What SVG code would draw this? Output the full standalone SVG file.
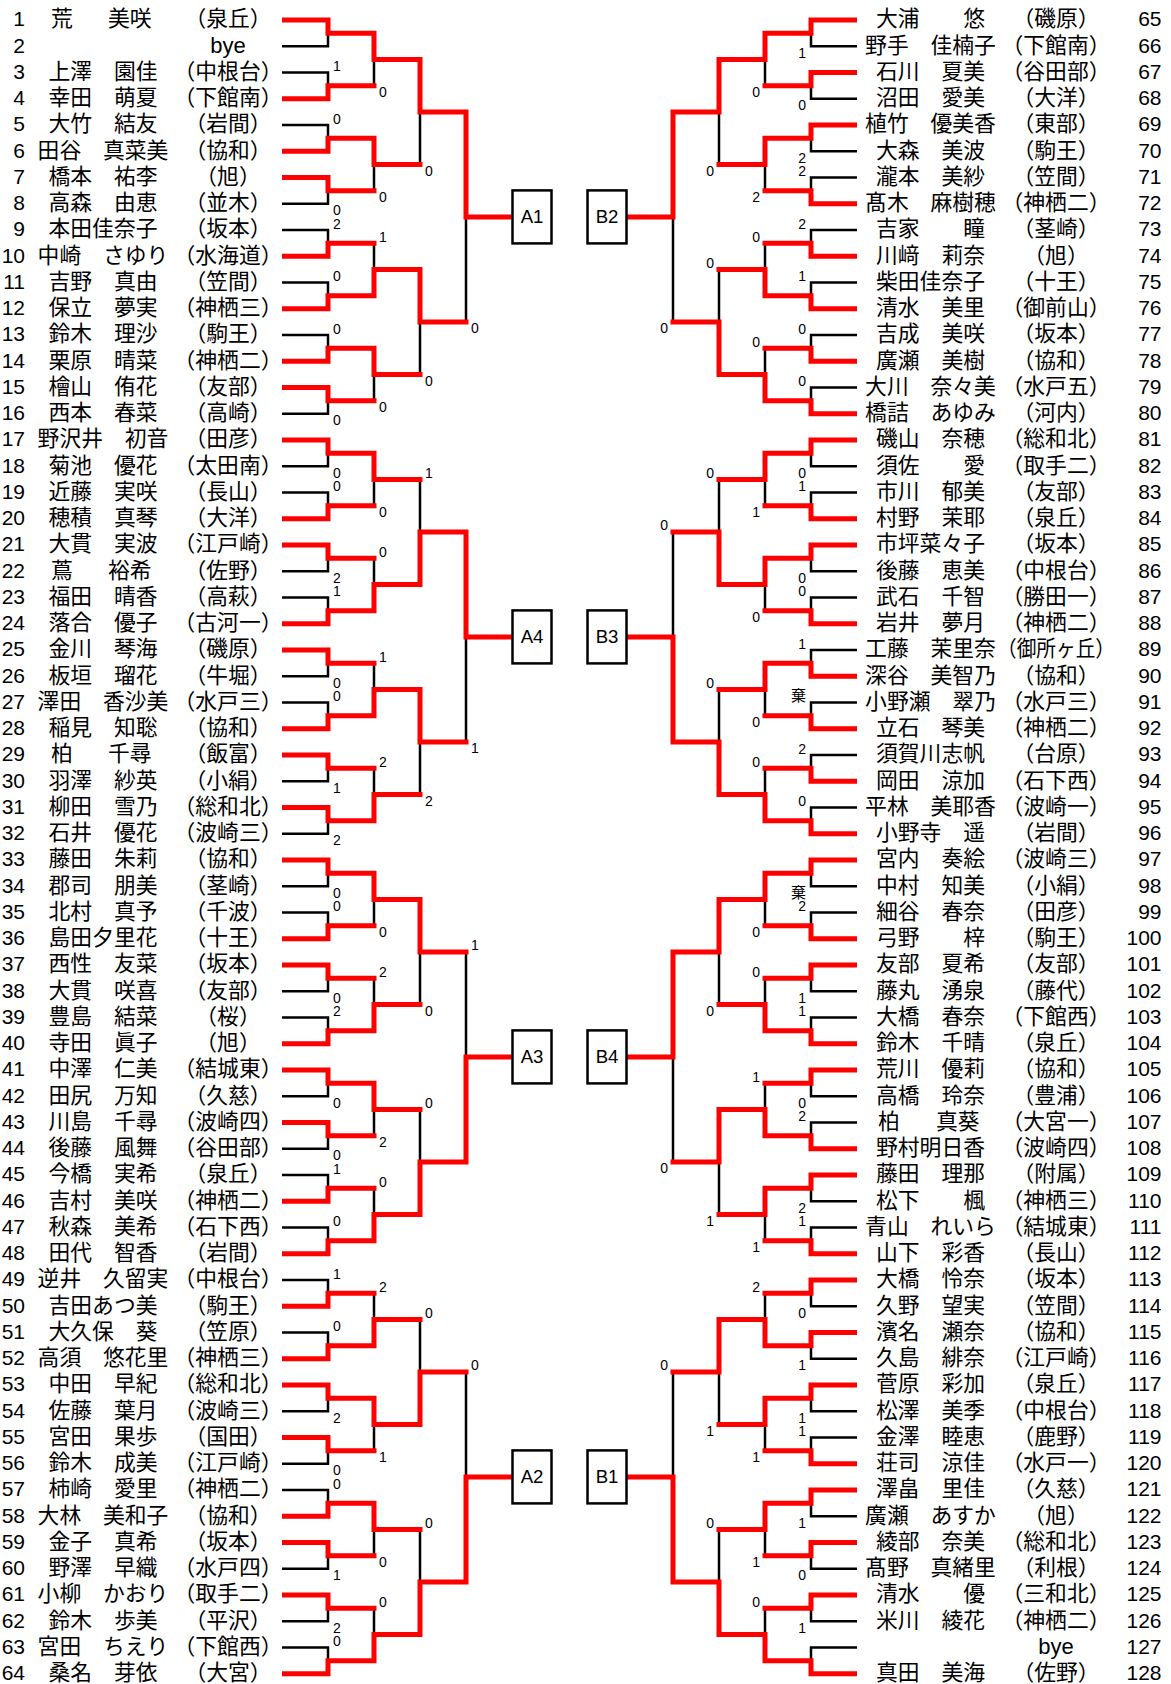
<svg xmlns="http://www.w3.org/2000/svg" width="1171" height="1684" viewBox="0 0 1171 1684">
<style>
.n{font-family:"Liberation Sans",Arial,sans-serif;font-size:21px;text-anchor:end;fill:#000}
.j{font-family:"Noto Sans CJK JP","Noto Sans CJK SC",sans-serif;font-size:21.8px;text-anchor:middle;fill:#000}
.js{text-anchor:start}
.bye{font-family:"Liberation Sans",Arial,sans-serif;font-size:22px;text-anchor:middle;fill:#000}
.s{font-family:"Liberation Sans",Arial,sans-serif;font-size:14px;fill:#000}
.sl{text-anchor:start}
.sr{text-anchor:end}
.k{font-family:"Noto Sans CJK JP",sans-serif;font-size:15px}
.bx{fill:#fff;stroke:#000;stroke-width:2.5}
.bt{font-family:"Liberation Sans",Arial,sans-serif;font-size:18.6px;text-anchor:middle;fill:#000}
.red{fill:none;stroke:#ff0000;stroke-width:5;stroke-linecap:square;stroke-linejoin:miter}
</style>
<defs>
<path id="sk" fill="none" stroke="#000" stroke-width="2.5" d="M282 20H328V46.25H282M282 72.5H328V98.75H282M282 125H328V151.25H282M282 177.5H328V203.75H282M282 230H328V256.25H282M282 282.5H328V308.75H282M282 335H328V361.25H282M282 387.5H328V413.75H282M374 33.125V85.625M374 138.125V190.625M374 243.125V295.625M374 348.125V400.625M420 59.375V164.375M420 269.375V374.375M466 111.875V321.875"/>
</defs>
<rect width="1171" height="1684" fill="#fff"/>
<g id="connectors">
<use href="#sk"/>
<use href="#sk" transform="translate(0,420)"/>
<use href="#sk" transform="translate(0,840)"/>
<use href="#sk" transform="translate(0,1260)"/>
<use href="#sk" transform="matrix(-1 0 0 1 1139 0)"/>
<use href="#sk" transform="matrix(-1 0 0 1 1139 420)"/>
<use href="#sk" transform="matrix(-1 0 0 1 1139 840)"/>
<use href="#sk" transform="matrix(-1 0 0 1 1139 1260)"/>
<path id="red-A1" class="red" d="M284.5 20H328V33.125H374M284.5 98.75H328V85.625H374M284.5 151.25H328V138.125H374M284.5 177.5H328V190.625H374M284.5 256.25H328V243.125H374M284.5 308.75H328V295.625H374M284.5 361.25H328V348.125H374M284.5 387.5H328V400.625H374M328 33.125H374V59.375H420M328 138.125H374V164.375H420M328 295.625H374V269.375H420M328 348.125H374V374.375H420M374 59.375H420V111.875H466M374 269.375H420V321.875H466M420 111.875H466V216.875H510"/>
<path id="red-A4" class="red" transform="translate(0,420)" d="M284.5 20H328V33.125H374M284.5 98.75H328V85.625H374M284.5 125H328V138.125H374M284.5 203.75H328V190.625H374M284.5 230H328V243.125H374M284.5 308.75H328V295.625H374M284.5 335H328V348.125H374M284.5 387.5H328V400.625H374M328 33.125H374V59.375H420M328 190.625H374V164.375H420M328 295.625H374V269.375H420M328 400.625H374V374.375H420M374 164.375H420V111.875H466M374 269.375H420V321.875H466M420 111.875H466V216.875H510"/>
<path id="red-A3" class="red" transform="translate(0,840)" d="M284.5 20H328V33.125H374M284.5 98.75H328V85.625H374M284.5 125H328V138.125H374M284.5 203.75H328V190.625H374M284.5 230H328V243.125H374M284.5 282.5H328V295.625H374M284.5 361.25H328V348.125H374M284.5 413.75H328V400.625H374M328 33.125H374V59.375H420M328 190.625H374V164.375H420M328 243.125H374V269.375H420M328 400.625H374V374.375H420M374 59.375H420V111.875H466M374 374.375H420V321.875H466M420 321.875H466V216.875H510"/>
<path id="red-A2" class="red" transform="translate(0,1260)" d="M284.5 46.25H328V33.125H374M284.5 98.75H328V85.625H374M284.5 125H328V138.125H374M284.5 177.5H328V190.625H374M284.5 256.25H328V243.125H374M284.5 282.5H328V295.625H374M284.5 335H328V348.125H374M284.5 413.75H328V400.625H374M328 85.625H374V59.375H420M328 138.125H374V164.375H420M328 243.125H374V269.375H420M328 400.625H374V374.375H420M374 164.375H420V111.875H466M374 374.375H420V321.875H466M420 321.875H466V216.875H510"/>
<path id="red-B2" class="red" transform="matrix(-1 0 0 1 1139 0)" d="M284.5 20H328V33.125H374M284.5 72.5H328V85.625H374M284.5 125H328V138.125H374M284.5 203.75H328V190.625H374M284.5 256.25H328V243.125H374M284.5 308.75H328V295.625H374M284.5 361.25H328V348.125H374M284.5 413.75H328V400.625H374M328 33.125H374V59.375H420M328 138.125H374V164.375H420M328 295.625H374V269.375H420M328 400.625H374V374.375H420M374 59.375H420V111.875H466M374 374.375H420V321.875H466M420 111.875H466V216.875H510"/>
<path id="red-B3" class="red" transform="matrix(-1 0 0 1 1139 420)" d="M284.5 20H328V33.125H374M284.5 98.75H328V85.625H374M284.5 125H328V138.125H374M284.5 203.75H328V190.625H374M284.5 256.25H328V243.125H374M284.5 308.75H328V295.625H374M284.5 361.25H328V348.125H374M284.5 413.75H328V400.625H374M328 33.125H374V59.375H420M328 138.125H374V164.375H420M328 243.125H374V269.375H420M328 400.625H374V374.375H420M374 164.375H420V111.875H466M374 374.375H420V321.875H466M420 321.875H466V216.875H510"/>
<path id="red-B4" class="red" transform="matrix(-1 0 0 1 1139 840)" d="M284.5 20H328V33.125H374M284.5 98.75H328V85.625H374M284.5 125H328V138.125H374M284.5 203.75H328V190.625H374M284.5 230H328V243.125H374M284.5 308.75H328V295.625H374M284.5 335H328V348.125H374M284.5 413.75H328V400.625H374M328 33.125H374V59.375H420M328 190.625H374V164.375H420M328 295.625H374V269.375H420M328 348.125H374V374.375H420M374 59.375H420V111.875H466M374 269.375H420V321.875H466M420 111.875H466V216.875H510"/>
<path id="red-B1" class="red" transform="matrix(-1 0 0 1 1139 1260)" d="M284.5 20H328V33.125H374M284.5 72.5H328V85.625H374M284.5 125H328V138.125H374M284.5 203.75H328V190.625H374M284.5 230H328V243.125H374M284.5 282.5H328V295.625H374M284.5 335H328V348.125H374M284.5 413.75H328V400.625H374M328 85.625H374V59.375H420M328 138.125H374V164.375H420M328 243.125H374V269.375H420M328 400.625H374V374.375H420M374 59.375H420V111.875H466M374 374.375H420V321.875H466M420 321.875H466V216.875H510"/>
</g>
<g id="scores">
<g id="scores-A1" class="s sl">
<text x="333" y="71">1</text><text x="333" y="123.5">0</text><text x="333" y="215.25">0</text><text x="333" y="228.5">2</text><text x="333" y="281">0</text><text x="333" y="333.5">0</text><text x="333" y="425.25">0</text>
<text x="379" y="97.125">0</text><text x="379" y="202.125">0</text><text x="379" y="241.625">1</text><text x="379" y="412.125">0</text>
<text x="425" y="175.875">0</text><text x="425" y="385.875">0</text><text x="471" y="333.375">0</text>
</g>
<g id="scores-A4" class="s sl" transform="translate(0,420)">
<text x="333" y="57.75">0</text><text x="333" y="71">0</text><text x="333" y="162.75">2</text><text x="333" y="176">1</text><text x="333" y="267.75">0</text><text x="333" y="281">0</text><text x="333" y="372.75">1</text><text x="333" y="425.25">2</text>
<text x="379" y="97.125">0</text><text x="379" y="136.625">0</text><text x="379" y="241.625">1</text><text x="379" y="346.625">2</text>
<text x="425" y="57.875">1</text><text x="425" y="385.875">2</text><text x="471" y="333.375">1</text>
</g>
<g id="scores-A3" class="s sl" transform="translate(0,840)">
<text x="333" y="57.75">0</text><text x="333" y="71">0</text><text x="333" y="162.75">0</text><text x="333" y="176">2</text><text x="333" y="267.75">0</text><text x="333" y="320.25">0</text><text x="333" y="333.5">1</text><text x="333" y="386">0</text>
<text x="379" y="97.125">0</text><text x="379" y="136.625">2</text><text x="379" y="307.125">2</text><text x="379" y="346.625">0</text>
<text x="425" y="175.875">0</text><text x="425" y="267.875">0</text><text x="471" y="110.375">1</text>
</g>
<g id="scores-A2" class="s sl" transform="translate(0,1260)">
<text x="333" y="18.5">1</text><text x="333" y="71">0</text><text x="333" y="162.75">2</text><text x="333" y="215.25">0</text><text x="333" y="228.5">0</text><text x="333" y="320.25">1</text><text x="333" y="372.75">2</text><text x="333" y="386">0</text>
<text x="379" y="31.625">2</text><text x="379" y="202.125">1</text><text x="379" y="307.125">0</text><text x="379" y="346.625">0</text>
<text x="425" y="57.875">0</text><text x="425" y="267.875">0</text><text x="471" y="110.375">0</text>
</g>
<g id="scores-B2" class="s sr">
<text x="806" y="57.75">1</text><text x="806" y="110.25">0</text><text x="806" y="162.75">2</text><text x="806" y="176">2</text><text x="806" y="228.5">2</text><text x="806" y="281">1</text><text x="806" y="333.5">0</text><text x="806" y="386">0</text>
<text x="760" y="97.125">0</text><text x="760" y="202.125">2</text><text x="760" y="241.625">0</text><text x="760" y="346.625">0</text>
<text x="714" y="175.875">0</text><text x="714" y="267.875">0</text><text x="668" y="333.375">0</text>
</g>
<g id="scores-B3" class="s sr" transform="translate(0,420)">
<text x="806" y="57.75">0</text><text x="806" y="71">1</text><text x="806" y="162.75">0</text><text x="806" y="176">0</text><text x="806" y="228.5">1</text><text class="k" x="806" y="281">棄</text><text x="806" y="333.5">2</text><text x="806" y="386">0</text>
<text x="760" y="97.125">1</text><text x="760" y="202.125">0</text><text x="760" y="307.125">0</text><text x="760" y="346.625">0</text>
<text x="714" y="57.875">0</text><text x="714" y="267.875">0</text><text x="668" y="110.375">0</text>
</g>
<g id="scores-B4" class="s sr" transform="translate(0,840)">
<text class="k" x="806" y="57.75">棄</text><text x="806" y="71">2</text><text x="806" y="162.75">1</text><text x="806" y="176">1</text><text x="806" y="267.75">0</text><text x="806" y="281">2</text><text x="806" y="372.75">2</text><text x="806" y="386">1</text>
<text x="760" y="97.125">0</text><text x="760" y="136.625">0</text><text x="760" y="241.625">1</text><text x="760" y="412.125">1</text>
<text x="714" y="175.875">0</text><text x="714" y="385.875">1</text><text x="668" y="333.375">0</text>
</g>
<g id="scores-B1" class="s sr" transform="translate(0,1260)">
<text x="806" y="57.75">0</text><text x="806" y="110.25">1</text><text x="806" y="162.75">1</text><text x="806" y="176">1</text><text x="806" y="267.75">1</text><text x="806" y="320.25">0</text><text x="806" y="372.75">1</text>
<text x="760" y="31.625">2</text><text x="760" y="202.125">1</text><text x="760" y="307.125">1</text><text x="760" y="346.625">0</text>
<text x="714" y="175.875">1</text><text x="714" y="267.875">0</text><text x="668" y="110.375">0</text>
</g>
</g>
<g id="boxes">
<g id="A1"><rect class="bx" x="512.5" y="190.4" width="39" height="53"/><text class="bt" x="532" y="223.4">A1</text></g>
<g id="A4"><rect class="bx" x="512.5" y="610.4" width="39" height="53"/><text class="bt" x="532" y="643.4">A4</text></g>
<g id="A3"><rect class="bx" x="512.5" y="1030.4" width="39" height="53"/><text class="bt" x="532" y="1063.4">A3</text></g>
<g id="A2"><rect class="bx" x="512.5" y="1450.4" width="39" height="53"/><text class="bt" x="532" y="1483.4">A2</text></g>
<g id="B2"><rect class="bx" x="587.5" y="190.4" width="39" height="53"/><text class="bt" x="607" y="223.4">B2</text></g>
<g id="B3"><rect class="bx" x="587.5" y="610.4" width="39" height="53"/><text class="bt" x="607" y="643.4">B3</text></g>
<g id="B4"><rect class="bx" x="587.5" y="1030.4" width="39" height="53"/><text class="bt" x="607" y="1063.4">B4</text></g>
<g id="B1"><rect class="bx" x="587.5" y="1450.4" width="39" height="53"/><text class="bt" x="607" y="1483.4">B1</text></g>
</g>
<g id="players-left">
<g id="p1"><text class="n" x="25" y="26.4">1</text><text class="j js" x="51 108" y="26.4">荒美咲</text><text class="j" x="228" y="26.4">（泉丘）</text></g>
<g id="p2"><text class="n" x="25" y="52.65">2</text><text class="bye" x="228" y="52.65">bye</text></g>
<g id="p3"><text class="n" x="25" y="78.9">3</text><text class="j" x="103" y="78.9">上澤　園佳</text><text class="j" x="228" y="78.9">（中根台）</text></g>
<g id="p4"><text class="n" x="25" y="105.15">4</text><text class="j" x="103" y="105.15">幸田　萌夏</text><text class="j" x="228" y="105.15">（下館南）</text></g>
<g id="p5"><text class="n" x="25" y="131.4">5</text><text class="j" x="103" y="131.4">大竹　結友</text><text class="j" x="228" y="131.4">（岩間）</text></g>
<g id="p6"><text class="n" x="25" y="157.65">6</text><text class="j" x="103" y="157.65">田谷　真菜美</text><text class="j" x="228" y="157.65">（協和）</text></g>
<g id="p7"><text class="n" x="25" y="183.9">7</text><text class="j" x="103" y="183.9">橋本　祐李</text><text class="j" x="228" y="183.9">（旭）</text></g>
<g id="p8"><text class="n" x="25" y="210.15">8</text><text class="j" x="103" y="210.15">高森　由恵</text><text class="j" x="228" y="210.15">（並木）</text></g>
<g id="p9"><text class="n" x="25" y="236.4">9</text><text class="j" x="103" y="236.4">本田佳奈子</text><text class="j" x="228" y="236.4">（坂本）</text></g>
<g id="p10"><text class="n" x="25" y="262.65">10</text><text class="j" x="103" y="262.65">中崎　さゆり</text><text class="j" x="228" y="262.65">（水海道）</text></g>
<g id="p11"><text class="n" x="25" y="288.9">11</text><text class="j" x="103" y="288.9">吉野　真由</text><text class="j" x="228" y="288.9">（笠間）</text></g>
<g id="p12"><text class="n" x="25" y="315.15">12</text><text class="j" x="103" y="315.15">保立　夢実</text><text class="j" x="228" y="315.15">（神栖三）</text></g>
<g id="p13"><text class="n" x="25" y="341.4">13</text><text class="j" x="103" y="341.4">鈴木　理沙</text><text class="j" x="228" y="341.4">（駒王）</text></g>
<g id="p14"><text class="n" x="25" y="367.65">14</text><text class="j" x="103" y="367.65">栗原　晴菜</text><text class="j" x="228" y="367.65">（神栖二）</text></g>
<g id="p15"><text class="n" x="25" y="393.9">15</text><text class="j" x="103" y="393.9">檜山　侑花</text><text class="j" x="228" y="393.9">（友部）</text></g>
<g id="p16"><text class="n" x="25" y="420.15">16</text><text class="j" x="103" y="420.15">西本　春菜</text><text class="j" x="228" y="420.15">（高崎）</text></g>
<g id="p17"><text class="n" x="25" y="446.4">17</text><text class="j" x="103" y="446.4">野沢井　初音</text><text class="j" x="228" y="446.4">（田彦）</text></g>
<g id="p18"><text class="n" x="25" y="472.65">18</text><text class="j" x="103" y="472.65">菊池　優花</text><text class="j" x="228" y="472.65">（太田南）</text></g>
<g id="p19"><text class="n" x="25" y="498.9">19</text><text class="j" x="103" y="498.9">近藤　実咲</text><text class="j" x="228" y="498.9">（長山）</text></g>
<g id="p20"><text class="n" x="25" y="525.15">20</text><text class="j" x="103" y="525.15">穂積　真琴</text><text class="j" x="228" y="525.15">（大洋）</text></g>
<g id="p21"><text class="n" x="25" y="551.4">21</text><text class="j" x="103" y="551.4">大貫　実波</text><text class="j" x="228" y="551.4">（江戸崎）</text></g>
<g id="p22"><text class="n" x="25" y="577.65">22</text><text class="j js" x="51 108" y="577.65">蔦裕希</text><text class="j" x="228" y="577.65">（佐野）</text></g>
<g id="p23"><text class="n" x="25" y="603.9">23</text><text class="j" x="103" y="603.9">福田　晴香</text><text class="j" x="228" y="603.9">（高萩）</text></g>
<g id="p24"><text class="n" x="25" y="630.15">24</text><text class="j" x="103" y="630.15">落合　優子</text><text class="j" x="228" y="630.15">（古河一）</text></g>
<g id="p25"><text class="n" x="25" y="656.4">25</text><text class="j" x="103" y="656.4">金川　琴海</text><text class="j" x="228" y="656.4">（磯原）</text></g>
<g id="p26"><text class="n" x="25" y="682.65">26</text><text class="j" x="103" y="682.65">板垣　瑠花</text><text class="j" x="228" y="682.65">（牛堀）</text></g>
<g id="p27"><text class="n" x="25" y="708.9">27</text><text class="j" x="103" y="708.9">澤田　香沙美</text><text class="j" x="228" y="708.9">（水戸三）</text></g>
<g id="p28"><text class="n" x="25" y="735.15">28</text><text class="j" x="103" y="735.15">稲見　知聡</text><text class="j" x="228" y="735.15">（協和）</text></g>
<g id="p29"><text class="n" x="25" y="761.4">29</text><text class="j js" x="51 108" y="761.4">柏千尋</text><text class="j" x="228" y="761.4">（飯富）</text></g>
<g id="p30"><text class="n" x="25" y="787.65">30</text><text class="j" x="103" y="787.65">羽澤　紗英</text><text class="j" x="228" y="787.65">（小絹）</text></g>
<g id="p31"><text class="n" x="25" y="813.9">31</text><text class="j" x="103" y="813.9">柳田　雪乃</text><text class="j" x="228" y="813.9">（総和北）</text></g>
<g id="p32"><text class="n" x="25" y="840.15">32</text><text class="j" x="103" y="840.15">石井　優花</text><text class="j" x="228" y="840.15">（波崎三）</text></g>
<g id="p33"><text class="n" x="25" y="866.4">33</text><text class="j" x="103" y="866.4">藤田　朱莉</text><text class="j" x="228" y="866.4">（協和）</text></g>
<g id="p34"><text class="n" x="25" y="892.65">34</text><text class="j" x="103" y="892.65">郡司　朋美</text><text class="j" x="228" y="892.65">（茎崎）</text></g>
<g id="p35"><text class="n" x="25" y="918.9">35</text><text class="j" x="103" y="918.9">北村　真予</text><text class="j" x="228" y="918.9">（千波）</text></g>
<g id="p36"><text class="n" x="25" y="945.15">36</text><text class="j" x="103" y="945.15">島田夕里花</text><text class="j" x="228" y="945.15">（十王）</text></g>
<g id="p37"><text class="n" x="25" y="971.4">37</text><text class="j" x="103" y="971.4">西性　友菜</text><text class="j" x="228" y="971.4">（坂本）</text></g>
<g id="p38"><text class="n" x="25" y="997.65">38</text><text class="j" x="103" y="997.65">大貫　咲喜</text><text class="j" x="228" y="997.65">（友部）</text></g>
<g id="p39"><text class="n" x="25" y="1023.9">39</text><text class="j" x="103" y="1023.9">豊島　結菜</text><text class="j" x="228" y="1023.9">（桜）</text></g>
<g id="p40"><text class="n" x="25" y="1050.15">40</text><text class="j" x="103" y="1050.15">寺田　眞子</text><text class="j" x="228" y="1050.15">（旭）</text></g>
<g id="p41"><text class="n" x="25" y="1076.4">41</text><text class="j" x="103" y="1076.4">中澤　仁美</text><text class="j" x="228" y="1076.4">（結城東）</text></g>
<g id="p42"><text class="n" x="25" y="1102.65">42</text><text class="j" x="103" y="1102.65">田尻　万知</text><text class="j" x="228" y="1102.65">（久慈）</text></g>
<g id="p43"><text class="n" x="25" y="1128.9">43</text><text class="j" x="103" y="1128.9">川島　千尋</text><text class="j" x="228" y="1128.9">（波崎四）</text></g>
<g id="p44"><text class="n" x="25" y="1155.15">44</text><text class="j" x="103" y="1155.15">後藤　風舞</text><text class="j" x="228" y="1155.15">（谷田部）</text></g>
<g id="p45"><text class="n" x="25" y="1181.4">45</text><text class="j" x="103" y="1181.4">今橋　実希</text><text class="j" x="228" y="1181.4">（泉丘）</text></g>
<g id="p46"><text class="n" x="25" y="1207.65">46</text><text class="j" x="103" y="1207.65">吉村　美咲</text><text class="j" x="228" y="1207.65">（神栖二）</text></g>
<g id="p47"><text class="n" x="25" y="1233.9">47</text><text class="j" x="103" y="1233.9">秋森　美希</text><text class="j" x="228" y="1233.9">（石下西）</text></g>
<g id="p48"><text class="n" x="25" y="1260.15">48</text><text class="j" x="103" y="1260.15">田代　智香</text><text class="j" x="228" y="1260.15">（岩間）</text></g>
<g id="p49"><text class="n" x="25" y="1286.4">49</text><text class="j" x="103" y="1286.4">逆井　久留実</text><text class="j" x="228" y="1286.4">（中根台）</text></g>
<g id="p50"><text class="n" x="25" y="1312.65">50</text><text class="j" x="103" y="1312.65">吉田あつ美</text><text class="j" x="228" y="1312.65">（駒王）</text></g>
<g id="p51"><text class="n" x="25" y="1338.9">51</text><text class="j" x="103" y="1338.9">大久保　葵</text><text class="j" x="228" y="1338.9">（笠原）</text></g>
<g id="p52"><text class="n" x="25" y="1365.15">52</text><text class="j" x="103" y="1365.15">高須　悠花里</text><text class="j" x="228" y="1365.15">（神栖三）</text></g>
<g id="p53"><text class="n" x="25" y="1391.4">53</text><text class="j" x="103" y="1391.4">中田　早紀</text><text class="j" x="228" y="1391.4">（総和北）</text></g>
<g id="p54"><text class="n" x="25" y="1417.65">54</text><text class="j" x="103" y="1417.65">佐藤　葉月</text><text class="j" x="228" y="1417.65">（波崎三）</text></g>
<g id="p55"><text class="n" x="25" y="1443.9">55</text><text class="j" x="103" y="1443.9">宮田　果歩</text><text class="j" x="228" y="1443.9">（国田）</text></g>
<g id="p56"><text class="n" x="25" y="1470.15">56</text><text class="j" x="103" y="1470.15">鈴木　成美</text><text class="j" x="228" y="1470.15">（江戸崎）</text></g>
<g id="p57"><text class="n" x="25" y="1496.4">57</text><text class="j" x="103" y="1496.4">柿崎　愛里</text><text class="j" x="228" y="1496.4">（神栖二）</text></g>
<g id="p58"><text class="n" x="25" y="1522.65">58</text><text class="j" x="103" y="1522.65">大林　美和子</text><text class="j" x="228" y="1522.65">（協和）</text></g>
<g id="p59"><text class="n" x="25" y="1548.9">59</text><text class="j" x="103" y="1548.9">金子　真希</text><text class="j" x="228" y="1548.9">（坂本）</text></g>
<g id="p60"><text class="n" x="25" y="1575.15">60</text><text class="j" x="103" y="1575.15">野澤　早織</text><text class="j" x="228" y="1575.15">（水戸四）</text></g>
<g id="p61"><text class="n" x="25" y="1601.4">61</text><text class="j" x="103" y="1601.4">小柳　かおり</text><text class="j" x="228" y="1601.4">（取手二）</text></g>
<g id="p62"><text class="n" x="25" y="1627.65">62</text><text class="j" x="103" y="1627.65">鈴木　歩美</text><text class="j" x="228" y="1627.65">（平沢）</text></g>
<g id="p63"><text class="n" x="25" y="1653.9">63</text><text class="j" x="103" y="1653.9">宮田　ちえり</text><text class="j" x="228" y="1653.9">（下館西）</text></g>
<g id="p64"><text class="n" x="25" y="1680.15">64</text><text class="j" x="103" y="1680.15">桑名　芽依</text><text class="j" x="228" y="1680.15">（大宮）</text></g>
</g>
<g id="players-right">
<g id="p65"><text class="j" x="930.5" y="26.4">大浦　　悠</text><text class="j" x="1056" y="26.4">（磯原）</text><text class="n" x="1161.5" y="26.4">65</text></g>
<g id="p66"><text class="j" x="930.5" y="52.65">野手　佳楠子</text><text class="j" x="1056" y="52.65">（下館南）</text><text class="n" x="1161.5" y="52.65">66</text></g>
<g id="p67"><text class="j" x="930.5" y="78.9">石川　夏美</text><text class="j" x="1056" y="78.9">（谷田部）</text><text class="n" x="1161.5" y="78.9">67</text></g>
<g id="p68"><text class="j" x="930.5" y="105.15">沼田　愛美</text><text class="j" x="1056" y="105.15">（大洋）</text><text class="n" x="1161.5" y="105.15">68</text></g>
<g id="p69"><text class="j" x="930.5" y="131.4">植竹　優美香</text><text class="j" x="1056" y="131.4">（東部）</text><text class="n" x="1161.5" y="131.4">69</text></g>
<g id="p70"><text class="j" x="930.5" y="157.65">大森　美波</text><text class="j" x="1056" y="157.65">（駒王）</text><text class="n" x="1161.5" y="157.65">70</text></g>
<g id="p71"><text class="j" x="930.5" y="183.9">瀧本　美紗</text><text class="j" x="1056" y="183.9">（笠間）</text><text class="n" x="1161.5" y="183.9">71</text></g>
<g id="p72"><text class="j" x="930.5" y="210.15">髙木　麻樹穂</text><text class="j" x="1056" y="210.15">（神栖二）</text><text class="n" x="1161.5" y="210.15">72</text></g>
<g id="p73"><text class="j" x="930.5" y="236.4">吉家　　瞳</text><text class="j" x="1056" y="236.4">（茎崎）</text><text class="n" x="1161.5" y="236.4">73</text></g>
<g id="p74"><text class="j" x="930.5" y="262.65">川﨑　莉奈</text><text class="j" x="1056" y="262.65">（旭）</text><text class="n" x="1161.5" y="262.65">74</text></g>
<g id="p75"><text class="j" x="930.5" y="288.9">柴田佳奈子</text><text class="j" x="1056" y="288.9">（十王）</text><text class="n" x="1161.5" y="288.9">75</text></g>
<g id="p76"><text class="j" x="930.5" y="315.15">清水　美里</text><text class="j" x="1056" y="315.15">（御前山）</text><text class="n" x="1161.5" y="315.15">76</text></g>
<g id="p77"><text class="j" x="930.5" y="341.4">吉成　美咲</text><text class="j" x="1056" y="341.4">（坂本）</text><text class="n" x="1161.5" y="341.4">77</text></g>
<g id="p78"><text class="j" x="930.5" y="367.65">廣瀬　美樹</text><text class="j" x="1056" y="367.65">（協和）</text><text class="n" x="1161.5" y="367.65">78</text></g>
<g id="p79"><text class="j" x="930.5" y="393.9">大川　奈々美</text><text class="j" x="1056" y="393.9">（水戸五）</text><text class="n" x="1161.5" y="393.9">79</text></g>
<g id="p80"><text class="j" x="930.5" y="420.15">橋詰　あゆみ</text><text class="j" x="1056" y="420.15">（河内）</text><text class="n" x="1161.5" y="420.15">80</text></g>
<g id="p81"><text class="j" x="930.5" y="446.4">磯山　奈穂</text><text class="j" x="1056" y="446.4">（総和北）</text><text class="n" x="1161.5" y="446.4">81</text></g>
<g id="p82"><text class="j" x="930.5" y="472.65">須佐　　愛</text><text class="j" x="1056" y="472.65">（取手二）</text><text class="n" x="1161.5" y="472.65">82</text></g>
<g id="p83"><text class="j" x="930.5" y="498.9">市川　郁美</text><text class="j" x="1056" y="498.9">（友部）</text><text class="n" x="1161.5" y="498.9">83</text></g>
<g id="p84"><text class="j" x="930.5" y="525.15">村野　茉耶</text><text class="j" x="1056" y="525.15">（泉丘）</text><text class="n" x="1161.5" y="525.15">84</text></g>
<g id="p85"><text class="j" x="930.5" y="551.4">市坪菜々子</text><text class="j" x="1056" y="551.4">（坂本）</text><text class="n" x="1161.5" y="551.4">85</text></g>
<g id="p86"><text class="j" x="930.5" y="577.65">後藤　恵美</text><text class="j" x="1056" y="577.65">（中根台）</text><text class="n" x="1161.5" y="577.65">86</text></g>
<g id="p87"><text class="j" x="930.5" y="603.9">武石　千智</text><text class="j" x="1056" y="603.9">（勝田一）</text><text class="n" x="1161.5" y="603.9">87</text></g>
<g id="p88"><text class="j" x="930.5" y="630.15">岩井　夢月</text><text class="j" x="1056" y="630.15">（神栖二）</text><text class="n" x="1161.5" y="630.15">88</text></g>
<g id="p89"><text class="j" x="930.5" y="656.4">工藤　茉里奈</text><text class="j" x="1056" y="656.4" textLength="118" lengthAdjust="spacingAndGlyphs">（御所ヶ丘）</text><text class="n" x="1161.5" y="656.4">89</text></g>
<g id="p90"><text class="j" x="930.5" y="682.65">深谷　美智乃</text><text class="j" x="1056" y="682.65">（協和）</text><text class="n" x="1161.5" y="682.65">90</text></g>
<g id="p91"><text class="j" x="930.5" y="708.9">小野瀬　翠乃</text><text class="j" x="1056" y="708.9">（水戸三）</text><text class="n" x="1161.5" y="708.9">91</text></g>
<g id="p92"><text class="j" x="930.5" y="735.15">立石　琴美</text><text class="j" x="1056" y="735.15">（神栖二）</text><text class="n" x="1161.5" y="735.15">92</text></g>
<g id="p93"><text class="j" x="930.5" y="761.4">須賀川志帆</text><text class="j" x="1056" y="761.4">（台原）</text><text class="n" x="1161.5" y="761.4">93</text></g>
<g id="p94"><text class="j" x="930.5" y="787.65">岡田　涼加</text><text class="j" x="1056" y="787.65">（石下西）</text><text class="n" x="1161.5" y="787.65">94</text></g>
<g id="p95"><text class="j" x="930.5" y="813.9">平林　美耶香</text><text class="j" x="1056" y="813.9">（波崎一）</text><text class="n" x="1161.5" y="813.9">95</text></g>
<g id="p96"><text class="j" x="930.5" y="840.15">小野寺　遥</text><text class="j" x="1056" y="840.15">（岩間）</text><text class="n" x="1161.5" y="840.15">96</text></g>
<g id="p97"><text class="j" x="930.5" y="866.4">宮内　奏絵</text><text class="j" x="1056" y="866.4">（波崎三）</text><text class="n" x="1161.5" y="866.4">97</text></g>
<g id="p98"><text class="j" x="930.5" y="892.65">中村　知美</text><text class="j" x="1056" y="892.65">（小絹）</text><text class="n" x="1161.5" y="892.65">98</text></g>
<g id="p99"><text class="j" x="930.5" y="918.9">細谷　春奈</text><text class="j" x="1056" y="918.9">（田彦）</text><text class="n" x="1161.5" y="918.9">99</text></g>
<g id="p100"><text class="j" x="930.5" y="945.15">弓野　　梓</text><text class="j" x="1056" y="945.15">（駒王）</text><text class="n" x="1161.5" y="945.15">100</text></g>
<g id="p101"><text class="j" x="930.5" y="971.4">友部　夏希</text><text class="j" x="1056" y="971.4">（友部）</text><text class="n" x="1161.5" y="971.4">101</text></g>
<g id="p102"><text class="j" x="930.5" y="997.65">藤丸　湧泉</text><text class="j" x="1056" y="997.65">（藤代）</text><text class="n" x="1161.5" y="997.65">102</text></g>
<g id="p103"><text class="j" x="930.5" y="1023.9">大橋　春奈</text><text class="j" x="1056" y="1023.9">（下館西）</text><text class="n" x="1161.5" y="1023.9">103</text></g>
<g id="p104"><text class="j" x="930.5" y="1050.15">鈴木　千晴</text><text class="j" x="1056" y="1050.15">（泉丘）</text><text class="n" x="1161.5" y="1050.15">104</text></g>
<g id="p105"><text class="j" x="930.5" y="1076.4">荒川　優莉</text><text class="j" x="1056" y="1076.4">（協和）</text><text class="n" x="1161.5" y="1076.4">105</text></g>
<g id="p106"><text class="j" x="930.5" y="1102.65">高橋　玲奈</text><text class="j" x="1056" y="1102.65">（豊浦）</text><text class="n" x="1161.5" y="1102.65">106</text></g>
<g id="p107"><text class="j js" x="878 936" y="1128.9">柏真葵</text><text class="j" x="1056" y="1128.9">（大宮一）</text><text class="n" x="1161.5" y="1128.9">107</text></g>
<g id="p108"><text class="j" x="930.5" y="1155.15">野村明日香</text><text class="j" x="1056" y="1155.15">（波崎四）</text><text class="n" x="1161.5" y="1155.15">108</text></g>
<g id="p109"><text class="j" x="930.5" y="1181.4">藤田　理那</text><text class="j" x="1056" y="1181.4">（附属）</text><text class="n" x="1161.5" y="1181.4">109</text></g>
<g id="p110"><text class="j" x="930.5" y="1207.65">松下　　楓</text><text class="j" x="1056" y="1207.65">（神栖三）</text><text class="n" x="1161.5" y="1207.65">110</text></g>
<g id="p111"><text class="j" x="930.5" y="1233.9">青山　れいら</text><text class="j" x="1056" y="1233.9">（結城東）</text><text class="n" x="1161.5" y="1233.9">111</text></g>
<g id="p112"><text class="j" x="930.5" y="1260.15">山下　彩香</text><text class="j" x="1056" y="1260.15">（長山）</text><text class="n" x="1161.5" y="1260.15">112</text></g>
<g id="p113"><text class="j" x="930.5" y="1286.4">大橋　怜奈</text><text class="j" x="1056" y="1286.4">（坂本）</text><text class="n" x="1161.5" y="1286.4">113</text></g>
<g id="p114"><text class="j" x="930.5" y="1312.65">久野　望実</text><text class="j" x="1056" y="1312.65">（笠間）</text><text class="n" x="1161.5" y="1312.65">114</text></g>
<g id="p115"><text class="j" x="930.5" y="1338.9">濱名　瀬奈</text><text class="j" x="1056" y="1338.9">（協和）</text><text class="n" x="1161.5" y="1338.9">115</text></g>
<g id="p116"><text class="j" x="930.5" y="1365.15">久島　緋奈</text><text class="j" x="1056" y="1365.15">（江戸崎）</text><text class="n" x="1161.5" y="1365.15">116</text></g>
<g id="p117"><text class="j" x="930.5" y="1391.4">菅原　彩加</text><text class="j" x="1056" y="1391.4">（泉丘）</text><text class="n" x="1161.5" y="1391.4">117</text></g>
<g id="p118"><text class="j" x="930.5" y="1417.65">松澤　美季</text><text class="j" x="1056" y="1417.65">（中根台）</text><text class="n" x="1161.5" y="1417.65">118</text></g>
<g id="p119"><text class="j" x="930.5" y="1443.9">金澤　睦恵</text><text class="j" x="1056" y="1443.9">（鹿野）</text><text class="n" x="1161.5" y="1443.9">119</text></g>
<g id="p120"><text class="j" x="930.5" y="1470.15">荘司　涼佳</text><text class="j" x="1056" y="1470.15">（水戸一）</text><text class="n" x="1161.5" y="1470.15">120</text></g>
<g id="p121"><text class="j" x="930.5" y="1496.4">澤畠　里佳</text><text class="j" x="1056" y="1496.4">（久慈）</text><text class="n" x="1161.5" y="1496.4">121</text></g>
<g id="p122"><text class="j" x="930.5" y="1522.65">廣瀬　あすか</text><text class="j" x="1056" y="1522.65">（旭）</text><text class="n" x="1161.5" y="1522.65">122</text></g>
<g id="p123"><text class="j" x="930.5" y="1548.9">綾部　奈美</text><text class="j" x="1056" y="1548.9">（総和北）</text><text class="n" x="1161.5" y="1548.9">123</text></g>
<g id="p124"><text class="j" x="930.5" y="1575.15">髙野　真緒里</text><text class="j" x="1056" y="1575.15">（利根）</text><text class="n" x="1161.5" y="1575.15">124</text></g>
<g id="p125"><text class="j" x="930.5" y="1601.4">清水　　優</text><text class="j" x="1056" y="1601.4">（三和北）</text><text class="n" x="1161.5" y="1601.4">125</text></g>
<g id="p126"><text class="j" x="930.5" y="1627.65">米川　綾花</text><text class="j" x="1056" y="1627.65">（神栖二）</text><text class="n" x="1161.5" y="1627.65">126</text></g>
<g id="p127"><text class="bye" x="1056" y="1653.9">bye</text><text class="n" x="1161.5" y="1653.9">127</text></g>
<g id="p128"><text class="j" x="930.5" y="1680.15">真田　美海</text><text class="j" x="1056" y="1680.15">（佐野）</text><text class="n" x="1161.5" y="1680.15">128</text></g>
</g>
</svg>
